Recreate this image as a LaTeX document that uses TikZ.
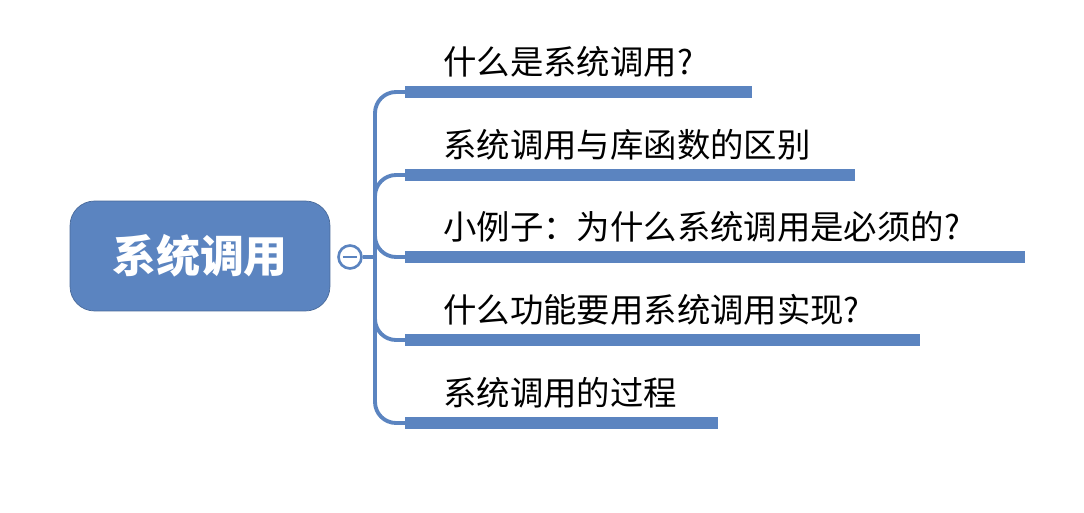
\documentclass[tikz,border=0pt]{standalone}
\usepackage{fontspec}
\setmainfont{Noto Sans CJK SC}
\definecolor{mapblue}{HTML}{5B84C0}
\tikzset{
  topic/.style={anchor=south west, inner sep=0pt, font=\fontsize{19pt}{21pt}\selectfont},
  bar/.style={line width=7pt, draw=mapblue},
  branch/.style={line width=2.2pt, draw=mapblue, rounded corners=12pt}
}
\begin{document}
\begin{tikzpicture}[x=0.02cm, y=-0.02cm]
    \useasboundingbox (0,0) rectangle (1084,513);

    \node[fill=mapblue, draw=mapblue!80!black, rounded corners=14pt, minimum width=5.2cm, minimum height=2.2cm, align=center, text=white, font=\bfseries\fontsize{25pt}{27pt}\selectfont] (root) at (200,256) {系统调用};
    \node[draw=mapblue, line width=1.5pt, fill=white, circle, minimum size=0.46cm, inner sep=0pt] (fold) at (350,257) {};
    \draw[line width=1.5pt, mapblue] ([xshift=-4pt]fold.center) -- ([xshift=4pt]fold.center);
    \coordinate (hub) at (375,257);
    \draw[branch] (fold.east) -- (hub);

    \def\ys{92/752/什么是系统调用?/a, 175/855/系统调用与库函数的区别/b, 257/1025/小例子：为什么系统调用是必须的?/c, 340/920/什么功能要用系统调用实现?/d, 423/718/系统调用的过程/e}
    \foreach \y/\e/\t/\n in \ys {
        \coordinate (s\n) at (405,\y);
        \coordinate (t\n) at (\e,\y);
        \node[topic] (l\n) at (443,\y-14) {\t};
        \draw[branch] (hub) |- (s\n);
        \draw[bar] (s\n) -- (t\n);
    }
\end{tikzpicture}
\end{document}
